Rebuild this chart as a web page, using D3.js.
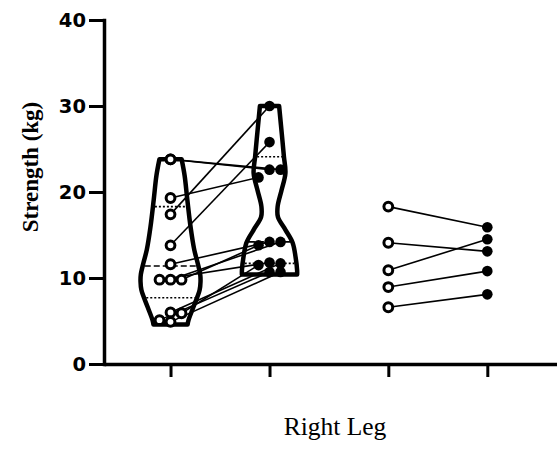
<!DOCTYPE html>
<html>
<head>
<meta charset="utf-8">
<script src="https://cdn.jsdelivr.net/npm/d3@7"></script>
<style>
  html, body { margin: 0; padding: 0; background: #fff; }
  svg { display: block; }
</style>
</head>
<body>
<svg id="chart" width="557" height="455"></svg>
<script>
// ---------------- DATA ----------------
const groups = ["Left Pre", "Left Post", "Right Pre", "Right Post"];
const yTickValues = [0, 10, 20, 30, 40];
const yLabel = "Strength (kg)";
const xLabel = "Right Leg";

// paired subjects (same index = same subject)
const leftPre  = [23.8, 23.8, 19.3, 17.4, 13.8, 11.6, 9.8, 9.8, 9.8, 6.0, 5.9, 5.1, 4.9];
const leftPost = [22.6, 22.6, 21.7, 30.0, 25.8, 14.2, 14.2, 13.8, 11.8, 11.7, 11.5, 10.7, 10.7];
const rightPre  = [18.3, 14.1, 10.9, 8.95, 6.6];
const rightPost = [15.9, 13.1, 14.5, 10.8, 8.1];

// violin outlines (level in kg, relative density 0..1)
const leftViolinLevels   = [23.8, 21.9, 19.1, 15.9, 13.3, 11.8, 10.4, 9.6, 8.6, 6.6, 5.1, 4.6];
const leftViolinDensity  = [0.37, 0.47, 0.56, 0.67, 0.79, 0.9, 0.99, 1.0, 0.97, 0.76, 0.6, 0.57];
const rightViolinLevels  = [30.0, 26.0, 24.1, 22.2, 20.2, 18.3, 17.1, 15.6, 14.1, 12.4, 10.9, 10.4];
const rightViolinDensity = [0.32, 0.43, 0.48, 0.53, 0.40, 0.27, 0.28, 0.53, 0.77, 0.87, 0.92, 0.92];

// quartile lines [Q1, median, Q3]
const leftQuartiles  = [7.7, 11.4, 18.3];
const rightQuartiles = [11.7, 14.2, 24.1];

// ---------------- LAYOUT ----------------
const svg = d3.select("#chart");
const groupGap = 0.2;
const slotOf = i => i + (i >= 2 ? groupGap : 0);

const x = d3.scaleLinear().domain([-0.672, 3.904]).range([104, 557]);
const y = d3.scaleLinear().domain([0, 40]).range([364, 20]);
const w = d3.scaleLinear().domain([0, 1]).range([0, 30]);
const jitterStep = 11;

function gx(i) { return x(slotOf(i)); }

function profile(levels, dens) {
  return levels.map((v, k) => ({ v, d: dens[k] }));
}
const leftProf = profile(leftViolinLevels, leftViolinDensity);
const rightProf = profile(rightViolinLevels, rightViolinDensity);

function halfWidthAt(prof, v) {
  const asc = prof.slice().sort((a, b) => a.v - b.v);
  if (v <= asc[0].v) return w(asc[0].d);
  if (v >= asc[asc.length - 1].v) return w(asc[asc.length - 1].d);
  for (let k = 0; k < asc.length - 1; k++) {
    const a = asc[k], b = asc[k + 1];
    if (v >= a.v && v <= b.v) {
      const t = (v - a.v) / (b.v - a.v);
      return w(a.d + t * (b.d - a.d));
    }
  }
  return 0;
}

// beeswarm offsets (slots -1, 0, +1), kept inside the violin
function swarm(values, prof) {
  const placed = [];
  const offs = new Array(values.length).fill(0);
  values.forEach((v, i) => {
    const cands = [0, 1, -1].filter(s => !prof || Math.abs(s) * jitterStep <= halfWidthAt(prof, v) - 2.5);
    let best = cands[0], bestD = -1;
    for (const s of cands) {
      let md = Infinity;
      for (const p of placed) {
        const dx = (s - p.s) * jitterStep, dy = y(v) - y(p.v);
        md = Math.min(md, Math.hypot(dx, dy));
      }
      if (md >= 9) { best = s; bestD = md; break; }
      if (md > bestD) { bestD = md; best = s; }
    }
    placed.push({ v, s: best });
    offs[i] = best * jitterStep;
  });
  return offs;
}

const offLeftPre = swarm(leftPre, leftProf);
const offLeftPost = swarm(leftPost, rightProf);
const offRightPre = swarm(rightPre, null);
const offRightPost = swarm(rightPost, null);

// ---------------- VIOLINS ----------------
function drawViolin(prof, gi, quart) {
  const cx = gx(gi);
  const area = d3.area()
    .y(d => y(d.v))
    .x0(d => cx - w(d.d))
    .x1(d => cx + w(d.d))
    .curve(d3.curveCatmullRom.alpha(0.5));
  svg.append("path")
    .attr("d", area(prof))
    .attr("fill", "#fff")
    .attr("stroke", "#000")
    .attr("stroke-width", 4.5)
    .attr("stroke-linejoin", "round");
  quart.forEach((q, k) => {
    const hw = halfWidthAt(prof, q) - 2;
    svg.append("line")
      .attr("x1", cx - hw).attr("x2", cx + hw)
      .attr("y1", y(q)).attr("y2", y(q))
      .attr("stroke", "#000")
      .attr("stroke-width", 1.6)
      .attr("stroke-dasharray", k === 1 ? "6,3" : "2,2");
  });
}
drawViolin(leftProf, 0, leftQuartiles);
drawViolin(rightProf, 1, rightQuartiles);

// ---------------- PAIR LINES ----------------
function drawPairs(pre, post, offPre, offPost, gPre, gPost) {
  svg.append("g").selectAll("line").data(pre).join("line")
    .attr("x1", (d, i) => gx(gPre) + offPre[i])
    .attr("y1", d => y(d))
    .attr("x2", (d, i) => gx(gPost) + offPost[i])
    .attr("y2", (d, i) => y(post[i]))
    .attr("stroke", "#000")
    .attr("stroke-width", 1.6);
}
drawPairs(leftPre, leftPost, offLeftPre, offLeftPost, 0, 1);
drawPairs(rightPre, rightPost, offRightPre, offRightPost, 2, 3);

// ---------------- POINTS ----------------
function drawOpen(vals, offs, gi) {
  svg.append("g").selectAll("circle").data(vals).join("circle")
    .attr("cx", (d, i) => gx(gi) + offs[i])
    .attr("cy", d => y(d))
    .attr("r", 4.4)
    .attr("fill", "#fff")
    .attr("stroke", "#000")
    .attr("stroke-width", 3);
}
function drawFilled(vals, offs, gi) {
  svg.append("g").selectAll("circle").data(vals).join("circle")
    .attr("cx", (d, i) => gx(gi) + offs[i])
    .attr("cy", d => y(d))
    .attr("r", 5.3)
    .attr("fill", "#000");
}
drawOpen(leftPre, offLeftPre, 0);
drawFilled(leftPost, offLeftPost, 1);
drawOpen(rightPre, offRightPre, 2);
drawFilled(rightPost, offRightPost, 3);

// ---------------- AXES ----------------
const yAxis = d3.axisLeft(y).tickValues(yTickValues).tickSize(15).tickSizeOuter(0).tickPadding(3);
const gy = svg.append("g").attr("transform", "translate(104,0)").call(yAxis);
gy.select(".domain").attr("stroke-width", 3.5).attr("stroke-linecap", "square");
gy.selectAll(".tick line").attr("stroke-width", 3);
gy.selectAll(".tick text")
  .attr("font-family", "'DejaVu Sans', sans-serif")
  .attr("font-weight", "bold")
  .attr("font-size", 19.5)
  .attr("fill", "#000")
  .attr("dy", "0.33em");

const xAxis = d3.axisBottom(x).tickValues(groups.map((g, i) => slotOf(i))).tickFormat(() => "").tickSize(13).tickSizeOuter(0);
const gxAxis = svg.append("g").attr("transform", "translate(0,364)").call(xAxis);
gxAxis.select(".domain").attr("stroke-width", 3.5);
gxAxis.selectAll(".tick line").attr("stroke-width", 3);

// ---------------- LABELS ----------------
svg.append("text")
  .attr("transform", "translate(38,167) rotate(-90)")
  .attr("text-anchor", "middle")
  .attr("font-family", "'Liberation Serif', 'Times New Roman', serif")
  .attr("font-weight", "bold")
  .attr("font-size", 23)
  .text(yLabel);

svg.append("text")
  .attr("x", 335).attr("y", 435)
  .attr("text-anchor", "middle")
  .attr("font-family", "'Liberation Serif', 'Times New Roman', serif")
  .attr("font-size", 25.5)
  .text(xLabel);
</script>
</body>
</html>
